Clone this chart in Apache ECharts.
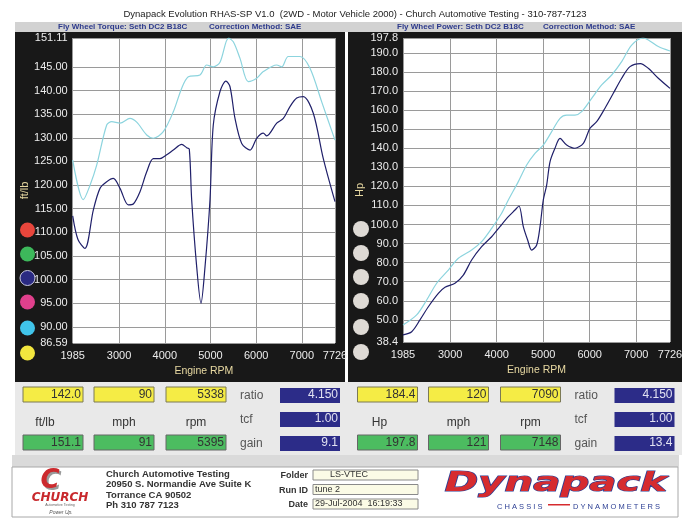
<!DOCTYPE html>
<html>
<head>
<meta charset="utf-8">
<title>Dynapack Evolution RHAS-SP</title>
<script src="https://cdn.jsdelivr.net/npm/echarts@6/dist/echarts.min.js"></script>
<style>
html, body { margin: 0; padding: 0; background: #fff; }
#chart { width: 690px; height: 519px; }
</style>
</head>
<body>
<div id="chart"></div>
<script>
// fly wheel torque (ft/lb) - this run (navy) and previous run (cyan)
var torqueRpm = [1985, 2100, 2254, 2436, 2582, 2729, 2874, 3020, 3202, 3311, 3458, 3605, 3749, 3896, 4042, 4187, 4371, 4480, 4537, 4589, 4699, 4793, 4881, 4990, 5062, 5209, 5338, 5428, 5537, 5684, 5866, 6012, 6157, 6231, 6450, 6595, 6741, 6888, 7032, 7251, 7470, 7726];
var torqueFt = [113.5, 108.5, 106.6, 114.7, 119.3, 120.7, 121.4, 119.3, 115.8, 116.0, 118.6, 122.8, 125.6, 125.6, 126.4, 127.4, 128.6, 127.9, 127.6, 116.9, 102.7, 95.0, 102.7, 116.9, 132.7, 139.8, 142.0, 140.8, 134.1, 128.8, 127.4, 129.9, 131.0, 130.4, 133.1, 134.1, 136.6, 138.4, 138.7, 135.2, 125.6, 116.5];
var torqueBaseRpm = [1985, 2217, 2366, 2510, 2729, 2839, 3020, 3239, 3386, 3605, 3749, 3968, 4187, 4371, 4515, 4771, 4918, 5062, 5209, 5395, 5500, 5647, 5828, 6012, 6157, 6450, 6559, 6704, 6960, 7179, 7435, 7726];
var torqueBaseFt = [125.3, 116.9, 120.0, 124.2, 132.7, 133.4, 133.1, 134.1, 133.3, 130.6, 129.9, 131.3, 135.5, 140.5, 142.9, 143.3, 145.4, 145.0, 146.0, 151.1, 150.3, 146.8, 141.9, 142.6, 144.0, 145.4, 145.0, 147.2, 147.2, 144.7, 137.6, 129.5];

// fly wheel power (Hp)
var powerRpm = [1985, 2172, 2350, 2530, 2745, 2888, 3103, 3282, 3461, 3676, 3891, 4070, 4250, 4393, 4479, 4572, 4665, 4751, 4859, 4931, 5002, 5074, 5146, 5253, 5361, 5504, 5683, 5862, 6006, 6149, 6328, 6507, 6687, 6866, 7090, 7260, 7475, 7726];
var powerHp = [42.1, 43.8, 50.0, 56.9, 63.9, 67.1, 69.2, 73.5, 81.4, 88.4, 93.6, 98.9, 104.1, 107.6, 109.7, 98.9, 91.9, 86.6, 89.3, 98.9, 112.9, 120.7, 132.9, 140.0, 145.2, 141.7, 140.0, 142.6, 150.5, 153.9, 161.0, 168.8, 176.7, 182.8, 184.4, 181.9, 176.7, 171.4];
var powerBaseRpm = [1985, 2279, 2494, 2709, 2960, 3175, 3461, 3676, 3891, 4106, 4250, 4465, 4644, 4823, 5002, 5182, 5361, 5504, 5683, 5827, 6042, 6257, 6472, 6687, 6902, 7148, 7260, 7475, 7726];
var powerBaseHp = [47.3, 52.6, 60.4, 69.2, 76.1, 82.3, 86.6, 91.0, 98.0, 105.9, 112.9, 122.5, 131.2, 137.3, 141.7, 148.7, 155.7, 157.4, 157.4, 159.2, 166.2, 173.2, 178.4, 185.4, 194.1, 197.8, 196.8, 193.3, 191.0];

// axis ticks
var rpmTicks = [1985, 3000, 4000, 5000, 6000, 7000, 7726];
var torqueTicks = [86.59, 90, 95, 100, 105, 110, 115, 120, 125, 130, 135, 140, 145, 151.11];
var powerTicks = [38.4, 50, 60, 70, 80, 90, 100, 110, 120, 130, 140, 150, 160, 170, 180, 190, 197.8];

// readouts under the charts
var torquePeak = ['142.0', '90', '5338'];
var torqueBest = ['151.1', '91', '5395'];
var torqueUnits = ['ft/lb', 'mph', 'rpm'];
var torqueSettings = ['4.150', '1.00', '9.1'];
var powerPeak = ['184.4', '120', '7090'];
var powerBest = ['197.8', '121', '7148'];
var powerUnits = ['Hp', 'mph', 'rpm'];
var powerSettings = ['4.150', '1.00', '13.4'];
var settingNames = ['ratio', 'tcf', 'gain'];

var addressLines = ['Church Automotive Testing', '20950 S. Normandie Ave Suite K', 'Torrance CA 90502', 'Ph 310 787 7123'];
var runInfoNames = ['Folder', 'Run ID', 'Date'];
var runInfoValues = ['LS-VTEC', 'tune 2', '29-Jul-2004  16:19:33'];

var FONT = '"Liberation Sans", Arial, sans-serif';

function pairs(xs, ys) {
    return xs.map(function (x, i) { return [x, ys[i]]; });
}

var els = [];
function rect(x, y, w, h, fill, stroke, z) {
    els.push({
        type: 'rect', z: z == null ? -5 : z, silent: true,
        shape: { x: x, y: y, width: w, height: h },
        style: { fill: fill, stroke: stroke || null, lineWidth: stroke ? 1 : 0 }
    });
}
function circle(cx, cy, r, fill, stroke) {
    els.push({
        type: 'circle', z: -3, silent: true,
        shape: { cx: cx, cy: cy, r: r },
        style: { fill: fill, stroke: stroke || null, lineWidth: stroke ? 1 : 0 }
    });
}
function label(x, y, s, font, fill, align, extra) {
    var el = {
        type: 'text', z: 5, silent: true, x: x, y: y,
        style: {
            text: s, font: font, fill: fill,
            align: align || 'left', verticalAlign: 'middle',
            textAlign: align || 'left', textVerticalAlign: 'middle'
        }
    };
    if (extra) {
        for (var k in extra) el[k] = extra[k];
    }
    els.push(el);
    return el;
}

// header
label(355, 14, 'Dynapack Evolution RHAS-SP V1.0  (2WD - Motor Vehicle 2000) - Church Automotive Testing - 310-787-7123', '9.5px ' + FONT, '#222', 'center');
rect(15, 22, 667, 10, '#d2d2d2');
label(58, 27, 'Fly Wheel Torque: Seth DC2 B18C', 'bold 8px ' + FONT, '#2d3a8c');
label(209, 27, 'Correction Method: SAE', 'bold 8px ' + FONT, '#2d3a8c');
label(397, 27, 'Fly Wheel Power: Seth DC2 B18C', 'bold 8px ' + FONT, '#2d3a8c');
label(543, 27, 'Correction Method: SAE', 'bold 8px ' + FONT, '#2d3a8c');

// dark panels and white plot areas
rect(15, 32, 330, 350, '#181818');
rect(348, 32, 334, 350, '#181818');
rect(72.7, 38, 262.3, 305, '#ffffff', null, -4);
rect(403, 38, 267, 304, '#ffffff', null, -4);

// colour dots
var dotY = [230, 254, 278, 302, 328, 353];
['#e8463c', '#3db85b', '#2a2a82', '#e0408c', '#40c4ea', '#f2e63e'].forEach(function (c, i) {
    circle(27.5, dotY[i], 7.5, c, i === 2 ? '#c8c8e0' : null);
    circle(361, dotY[i] - 1, 8, '#dedad5');
});

// readout area
rect(15, 382, 667, 73, '#e9e9e9');
function readouts(dx, peak, best, units, settings) {
    var cols = [23, 94, 166];
    cols.forEach(function (cx, i) {
        rect(cx + dx, 387, 60, 15, '#f5ec45', '#7c7a55', -2);
        label(cx + dx + 58, 395, peak[i], '12px ' + FONT, '#333', 'right');
        label(cx + dx + 30 - (i === 0 ? 8 : 0), 423, units[i], '12px ' + FONT, '#333', 'center');
        rect(cx + dx, 435, 60, 15, '#4cbc60', '#666', -2);
        label(cx + dx + 58, 443, best[i], '12px ' + FONT, '#333', 'right');
    });
    var sy = [395, 419, 443];
    settings.forEach(function (v, i) {
        label(240 + dx, sy[i] + 1, settingNames[i], '12px ' + FONT, '#555');
        rect(280 + dx, sy[i] - 7, 60, 15, '#2c2c88', null, -2);
        label(338 + dx, sy[i], v, '12px ' + FONT, '#e2e2f2', 'right');
    });
}
readouts(0, torquePeak, torqueBest, torqueUnits, torqueSettings);
readouts(334.5, powerPeak, powerBest, powerUnits, powerSettings);

// footer
rect(12, 455, 667, 12, '#dadada');
rect(12, 467, 666, 50, '#ffffff', '#a8a8a8');
label(52, 483, 'C', 'italic 900 26px "DejaVu Sans", sans-serif', '#9a9a9a', 'center');
label(50, 481, 'C', 'italic 900 26px "DejaVu Sans", sans-serif', '#cc2a2e', 'center');
label(60, 498, 'CHURCH', 'italic 900 12px "DejaVu Sans", sans-serif', '#c8282c', 'center');
label(60, 505, 'Automotive Testing', '3.5px ' + FONT, '#666', 'center');
label(61, 513, 'Power Up.', 'italic 5px ' + FONT, '#555', 'center');
addressLines.forEach(function (s, i) {
    label(106, 474 + i * 10.5, s, 'bold 9.5px ' + FONT, '#333');
});
var infoY = [475, 489.5, 504];
runInfoNames.forEach(function (s, i) {
    label(308, infoY[i] + 1, s, 'bold 9px ' + FONT, '#333', 'right');
    rect(313, infoY[i] - 5, 105, 10, '#fbfbe6', '#8a8a8a', -2);
    label(i === 0 ? 330 : 315, infoY[i], runInfoValues[i], '9px ' + FONT, '#333');
});
label(556, 484, 'Dynapack', 'italic 900 26px "DejaVu Sans", sans-serif', '#d62b2f', 'center', { scaleX: 1.55 });
els[els.length - 1].style.stroke = '#2c3f94';
els[els.length - 1].style.lineWidth = 1.2;
label(497, 507, 'C H A S S I S', '7.5px ' + FONT, '#2c3f94');
label(573, 507, 'D Y N A M O M E T E R S', '7.5px ' + FONT, '#2c3f94');
rect(548, 504, 22, 1.5, '#d62b2f', null, 5);

function xAxisOpt(grid) {
    return {
        type: 'value', gridIndex: grid, min: 1985, max: 7726,
        name: 'Engine RPM', nameLocation: 'middle', nameGap: 20,
        nameTextStyle: { color: '#e8d9a2', fontSize: 10.5, fontFamily: FONT },
        axisLine: { show: false },
        axisTick: { show: false, customValues: rpmTicks },
        axisLabel: {
            customValues: rpmTicks, color: '#ececec', fontSize: 11, fontFamily: FONT, margin: 7,
            formatter: function (v) { return String(v); }
        },
        splitLine: { show: true, lineStyle: { color: '#9a9a9a', width: 1 } }
    };
}
function yAxisOpt(grid, min, max, ticks, digits, name, gap) {
    return {
        type: 'value', gridIndex: grid, min: min, max: max,
        name: name, nameLocation: 'middle', nameGap: gap, nameRotate: 90,
        nameTextStyle: { color: '#e8d9a2', fontSize: 11, fontFamily: FONT },
        axisLine: { show: false },
        axisTick: { show: false, customValues: ticks },
        axisLabel: {
            customValues: ticks, color: '#ececec', fontSize: 11, fontFamily: FONT, margin: 5,
            formatter: function (v) { return v.toFixed(digits); }
        },
        splitLine: { show: true, lineStyle: { color: '#9a9a9a', width: 1 } }
    };
}
function lineSeries(xi, data, color) {
    return {
        type: 'line', xAxisIndex: xi, yAxisIndex: xi, data: data,
        showSymbol: false, smooth: 0.3, silent: true,
        lineStyle: { color: color, width: 1.2 }, itemStyle: { color: color }
    };
}

var chart = echarts.init(document.getElementById('chart'));
chart.setOption({
    animation: false,
    backgroundColor: '#ffffff',
    grid: [
        { left: 72.7, top: 38, width: 262.3, height: 305 },
        { left: 403, top: 38, width: 267, height: 304 }
    ],
    xAxis: [xAxisOpt(0), xAxisOpt(1)],
    yAxis: [
        yAxisOpt(0, 86.59, 151.11, torqueTicks, 2, 'ft/lb', 40),
        yAxisOpt(1, 38.4, 197.8, powerTicks, 1, 'Hp', 38)
    ],
    series: [
        lineSeries(0, pairs(torqueBaseRpm, torqueBaseFt), '#8cd4de'),
        lineSeries(0, pairs(torqueRpm, torqueFt), '#20206a'),
        lineSeries(1, pairs(powerBaseRpm, powerBaseHp), '#8cd4de'),
        lineSeries(1, pairs(powerRpm, powerHp), '#20206a')
    ],
    graphic: { elements: els }
});
</script>
</body>
</html>
